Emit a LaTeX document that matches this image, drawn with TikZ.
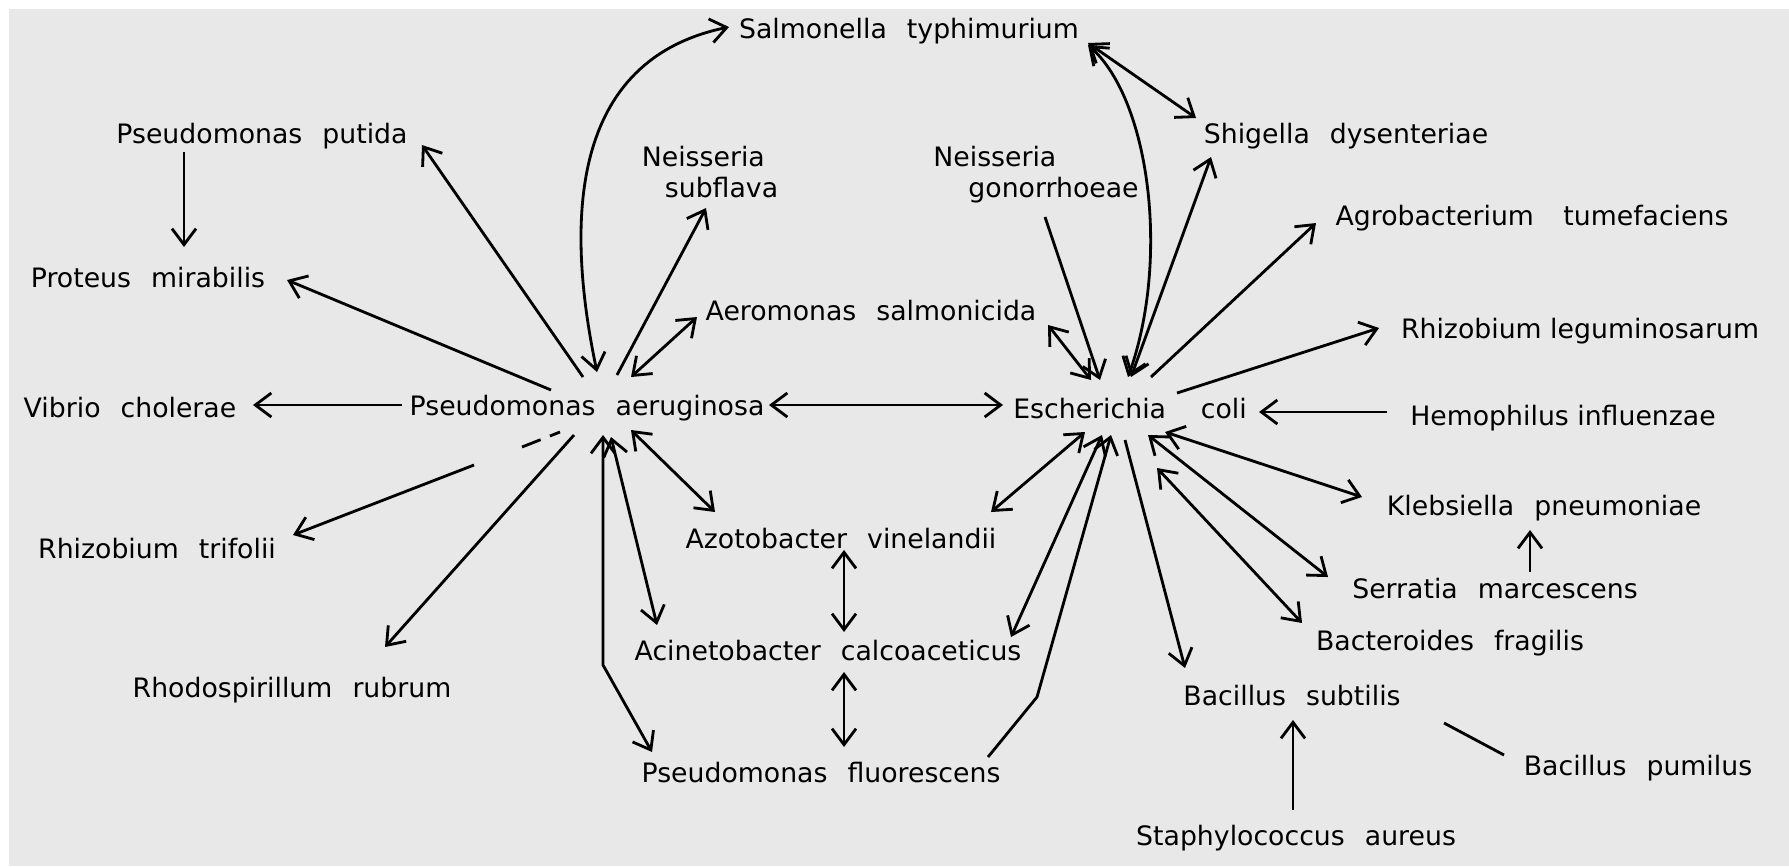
\documentclass[tikz,border=0pt]{standalone}
\usepackage{fontspec}
\setmainfont{DejaVu Sans}
\usetikzlibrary{arrows.meta}
\definecolor{paper}{gray}{0.91}
\newcommand{\spfont}{\fontsize{7.6}{8.8}\selectfont}
\newcommand{\wgap}[1][0.75em]{\hspace{#1}}

\begin{document}
\begin{tikzpicture}[x=0.01cm, y=-0.01cm, >={Straight Barb[length=1.6mm,width=2.4mm]},
  sp/.style={font=\spfont, inner sep=1pt, text height=1.5ex, text depth=.4ex},
  sptwo/.style={font=\spfont, inner sep=1pt, align=left},
  lnk/.style={line width=0.8pt}]
  % Paper
  \useasboundingbox (0,0) rectangle (1789,866);
  \fill[paper] (9,9) rectangle (1789,866);
  % Hubs
  \node[sp] (PA) at (587,405) {Pseudomonas\wgap aeruginosa};
  \node[sp] (EC) at (1130,408) {Escherichia\wgap[1.3em]coli};
  % Top row
  \node[sp] (ST) at (909,28) {Salmonella\wgap typhimurium};
  \node[sp] (PP) at (262,133) {Pseudomonas\wgap putida};
  \node[sptwo] (NS) at (710,172) {Neisseria\\\hspace*{0.23cm}subflava};
  \node[sptwo] (NG) at (1036,175) {Neisseria\\\hspace*{0.35cm}gonorrhoeae};
  \node[sp] (SD) at (1346,133) {Shigella\wgap dysenteriae};
  \node[sp] (AT) at (1532,215) {Agrobacterium\wgap[1.1em]tumefaciens};
  \node[sp] (PM) at (148,277) {Proteus\wgap mirabilis};
  \node[sp] (AS) at (871,310) {Aeromonas\wgap salmonicida};
  \node[sp] (RL) at (1580,328) {Rhizobium leguminosarum};
  % Middle row
  \node[sp] (VC) at (130,407) {Vibrio\wgap cholerae};
  \node[sp] (HI) at (1563,415) {Hemophilus influenzae};
  % Bottom rows
  \node[sp] (KP) at (1544,505) {Klebsiella\wgap pneumoniae};
  \node[sp] (AV) at (841,538) {Azotobacter\wgap vinelandii};
  \node[sp] (RT) at (157,548) {Rhizobium\wgap trifolii};
  \node[sp] (SM) at (1495,588) {Serratia\wgap marcescens};
  \node[sp] (AC) at (828,650) {Acinetobacter\wgap calcoaceticus};
  \node[sp] (BF) at (1450,640) {Bacteroides\wgap fragilis};
  \node[sp] (RR) at (292,687) {Rhodospirillum\wgap rubrum};
  \node[sp] (BS) at (1292,695) {Bacillus\wgap subtilis};
  \node[sp] (PF) at (821,772) {Pseudomonas\wgap fluorescens};
  \node[sp] (BP) at (1638,765) {Bacillus\wgap pumilus};
  \node[sp] (SA) at (1296,835) {Staphylococcus\wgap aureus};
  % Links of P. aeruginosa
  \draw[lnk,<->] ([shift={(10,-33)}]PA.center) .. controls (565,220) and (570,60) .. ([shift={(-180,-1)}]ST.center);
  \draw[lnk,->] ([shift={(-4,-28)}]PA.center) -- ([shift={(160,12)}]PP.center);
  \draw[lnk,->] ([shift={(30,-30)}]PA.center) -- ([shift={(-4,36)}]NS.center);
  \draw[lnk,<->] ([shift={(44,-28)}]PA.center) -- ([shift={(-174,7)}]AS.center);
  \draw[lnk,->] ([shift={(-36,-15)}]PA.center) -- ([shift={(139,3)}]PM.center);
  \draw[lnk,->] ([shift={(-185,0)}]PA.center) -- ([shift={(123,-2)}]VC.center);
  \draw[lnk,<->] ([shift={(182,0)}]PA.center) -- ([shift={(-127,-3)}]EC.center);
  \draw[lnk,dash pattern=on 0.2cm off 0.1cm] ([shift={(-65,42)}]PA.center) -- ([shift={(-27,27)}]PA.center);
  \draw[lnk,->] ([shift={(-113,60)}]PA.center) -- ([shift={(136,-13)}]RT.center);
  \draw[lnk,->] ([shift={(-13,30)}]PA.center) -- ([shift={(93,-40)}]RR.center);
  \draw[lnk,<->] ([shift={(44,25)}]PA.center) -- ([shift={(-126,-26)}]AV.center);
  \draw[lnk,<->] ([shift={(24,32)}]PA.center) -- ([shift={(-171,-25)}]AC.center);
  \draw[lnk,<->] ([shift={(16,30)}]PA.center) -- ++(0,230) -- ([shift={(-169,-20)}]PF.center);
  % Middle column
  \draw[lnk,<->] ([shift={(3,12)}]AV.center) -- ([shift={(16,-18)}]AC.center);
  \draw[lnk,<->] ([shift={(16,22)}]AC.center) -- ([shift={(23,-25)}]PF.center);
  % Links of E. coli
  \draw[lnk,->] ([shift={(9,42)}]NG.center) -- ([shift={(-30,-28)}]EC.center);
  \draw[lnk,<->] ([shift={(177,15)}]AS.center) -- ([shift={(-39,-28)}]EC.center);
  \draw[lnk,<->] ([shift={(179,17)}]ST.center) .. controls (1150,100) and (1170,260) .. ([shift={(-2,-31)}]EC.center);
  \draw[lnk,<->] ([shift={(179,15)}]ST.center) -- ([shift={(-150,-15)}]SD.center);
  \draw[lnk,<->] ([shift={(1,-31)}]EC.center) -- ([shift={(-135,24)}]SD.center);
  \draw[lnk,->] ([shift={(21,-31)}]EC.center) -- ([shift={(-216,8)}]AT.center);
  \draw[lnk,->] ([shift={(47,-15)}]EC.center) -- ([shift={(-201,0)}]RL.center);
  \draw[lnk,->] ([shift={(-176,-3)}]HI.center) -- ([shift={(129,4)}]EC.center);
  \draw[lnk,<->] ([shift={(-45,24)}]EC.center) -- ([shift={(150,-26)}]AV.center);
  \draw[lnk,<->] ([shift={(-28,27)}]EC.center) -- ([shift={(183,-13)}]AC.center);
  \draw[lnk,->] ([shift={(167,-15)}]PF.center) -- ++(49,-60) -- ([shift={(-19,27)}]EC.center);
  \draw[lnk,->] ([shift={(-5,32)}]EC.center) -- ([shift={(-107,-27)}]BS.center);
  \draw[lnk,<->] ([shift={(27,60)}]EC.center) -- ([shift={(-148,-17)}]BF.center);
  \draw[lnk,<->] ([shift={(18,27)}]EC.center) -- ([shift={(-167,-11)}]SM.center);
  \draw[lnk,<->] ([shift={(35,24)}]EC.center) -- ([shift={(-182,-8)}]KP.center);
  % Outer links
  \draw[lnk,->] ([shift={(35,-16)}]SM.center) -- ([shift={(-14,25)}]KP.center);
  \draw[lnk] ([shift={(152,28)}]BS.center) -- ([shift={(-134,-10)}]BP.center);
  \draw[lnk,->] ([shift={(-3,-25)}]SA.center) -- ([shift={(1,25)}]BS.center);
  \draw[lnk,->] ([shift={(-78,19)}]PP.center) -- ([shift={(36,-30)}]PM.center);
\end{tikzpicture}
\end{document}
